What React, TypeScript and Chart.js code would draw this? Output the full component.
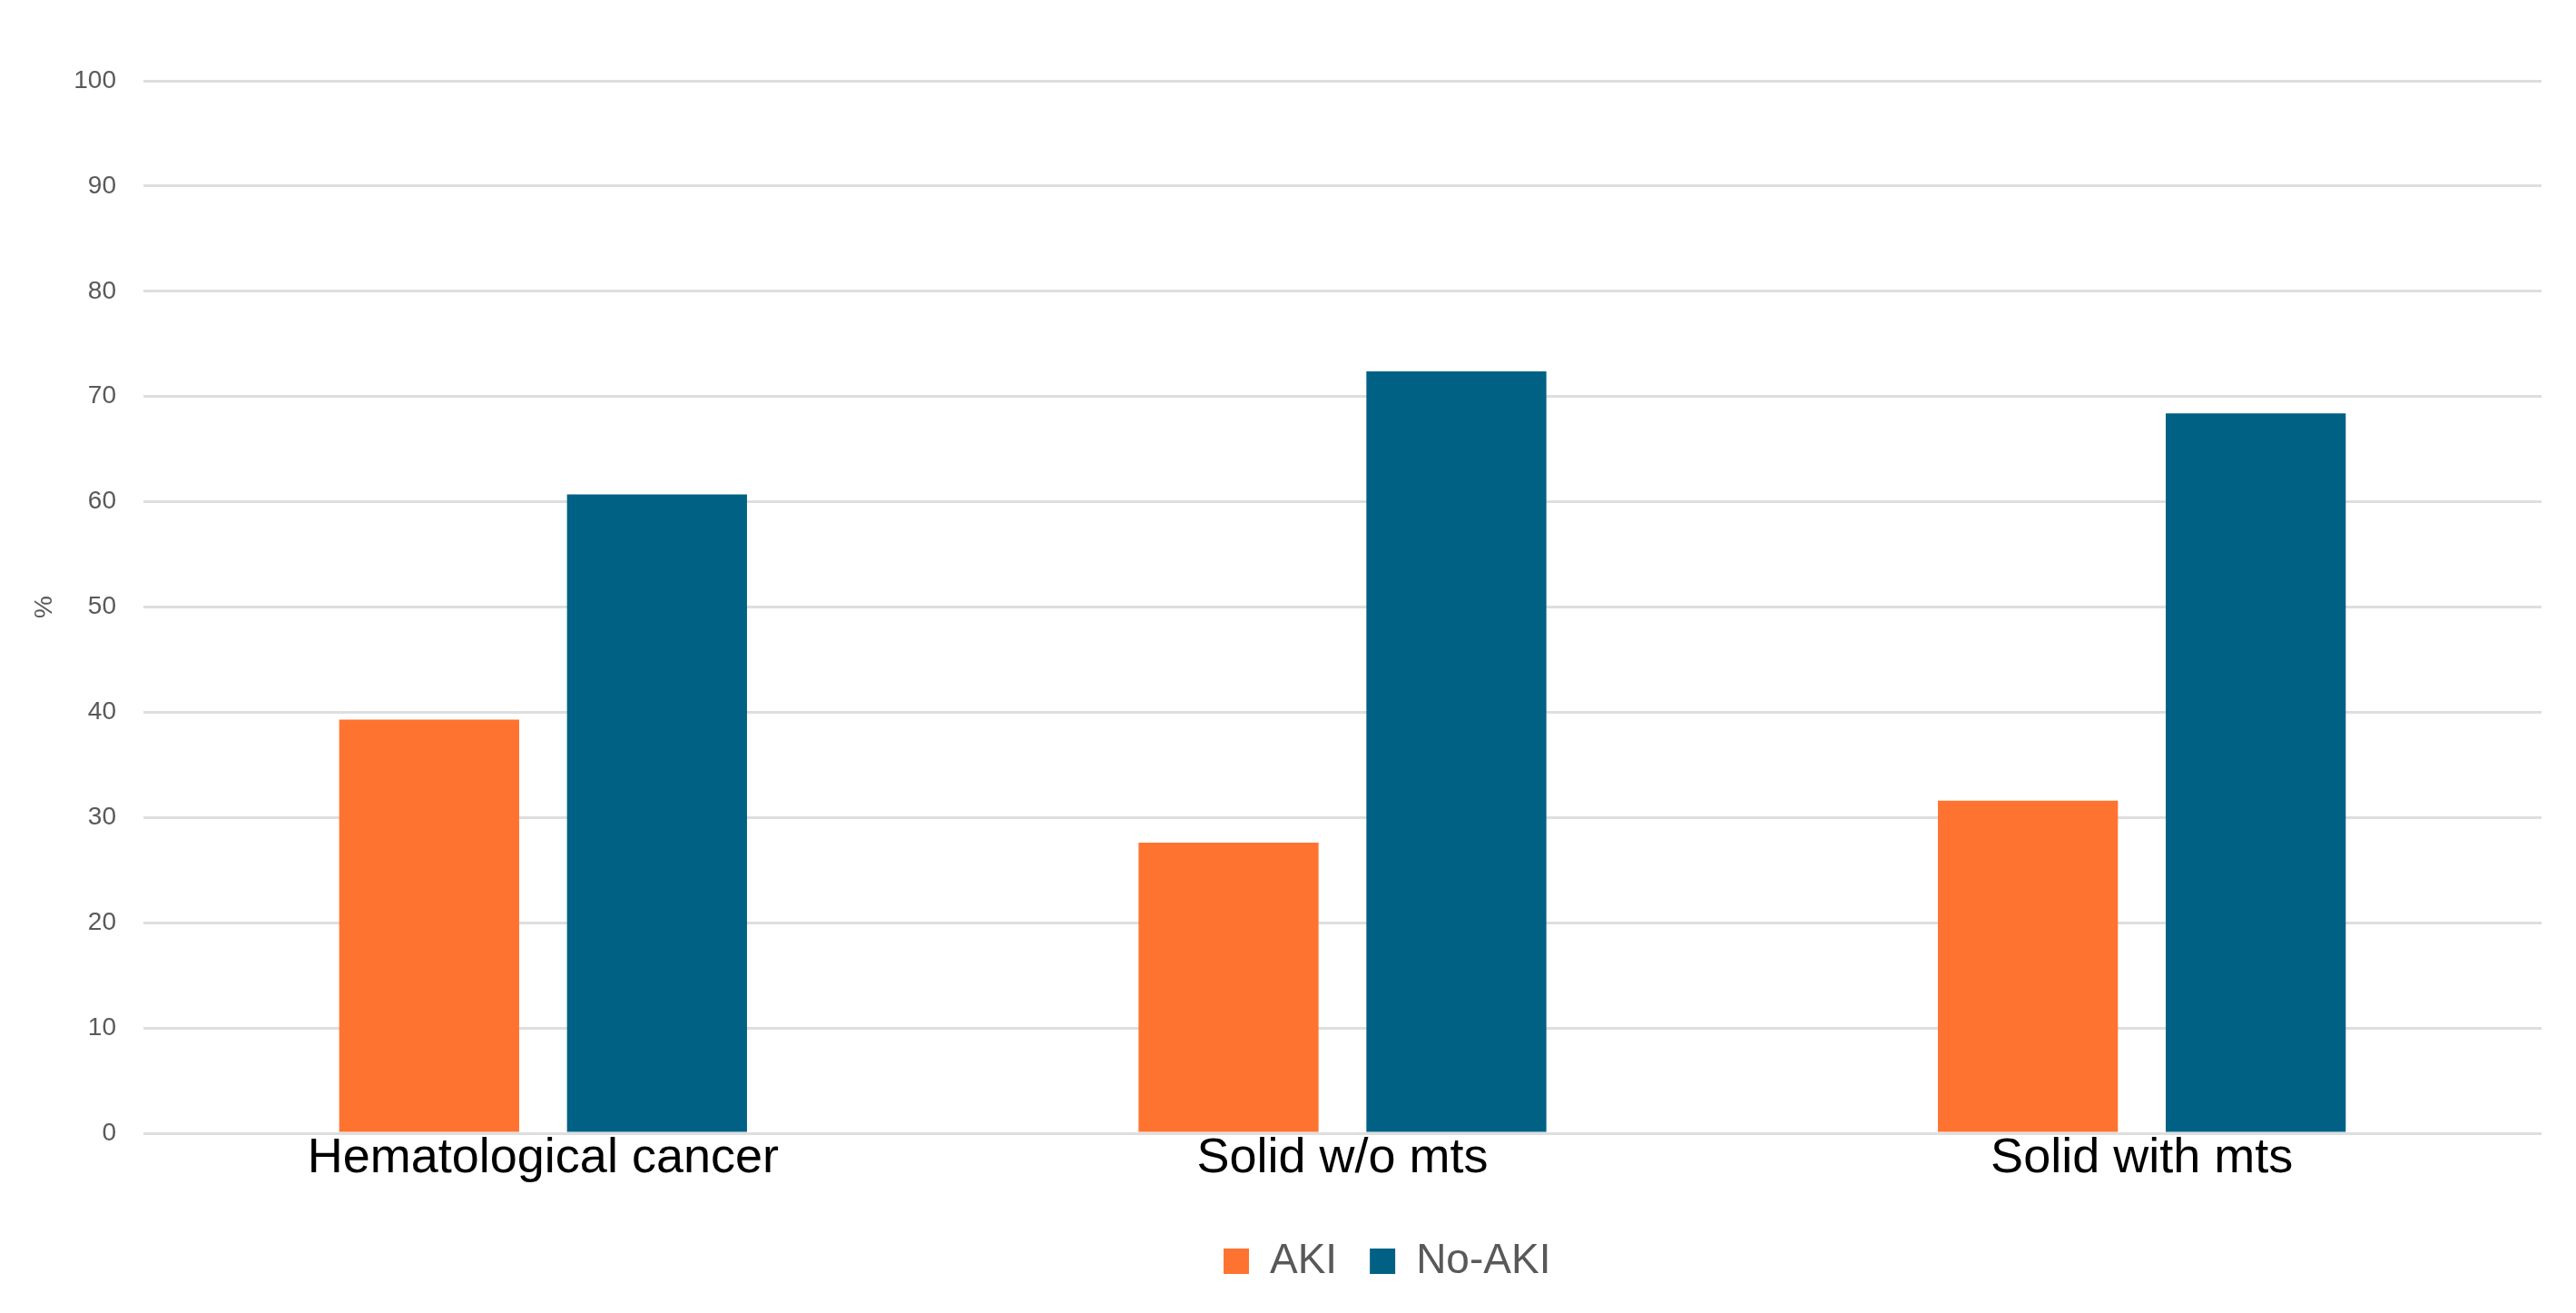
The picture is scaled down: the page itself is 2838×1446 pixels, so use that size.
import React, { useEffect, useRef } from "react";
import { Chart, registerables } from "chart.js";

Chart.register(...registerables);

const categories = ["Hematological cancer", "Solid w/o mts", "Solid with mts"];
const akiValues = [39.3, 27.6, 31.6];
const noAkiValues = [60.7, 72.4, 68.4];
const seriesNames = ["AKI", "No-AKI"];
const yTitle = "%";

const FONT = "'Liberation Sans', Arial, sans-serif";

export default function App() {
  const ref = useRef<HTMLCanvasElement | null>(null);

  useEffect(() => {
    if (!ref.current) return;
    const legendShift = {
      id: "legendShift",
      afterLayout(chart: any) {
        const lg = chart.legend;
        if (!lg || !lg.lineWidths) return;
        const pad = lg.options.labels.padding;
        const start = (lg.left + pad + lg.right - lg.lineWidths[0]) / 2;
        const dx = 1348 - start;
        lg.left += dx;
        lg.right += dx;
      },
    };
    const chart = new Chart(ref.current, {
      type: "bar",
      data: {
        labels: categories,
        datasets: [
          {
            label: seriesNames[0],
            data: akiValues,
            backgroundColor: "#FF7330",
            borderWidth: 0,
          },
          {
            label: seriesNames[1],
            data: noAkiValues,
            backgroundColor: "#006185",
            borderWidth: 0,
          },
        ],
      },
      options: {
        animation: false,
        responsive: true,
        maintainAspectRatio: false,
        datasets: {
          bar: { categoryPercentage: 0.57, barPercentage: 0.79 },
        },
        layout: { padding: { left: 0, right: 38, top: 89, bottom: 24 } },
        plugins: {
          tooltip: { enabled: false },
          legend: {
            position: "bottom",
            labels: {
              boxWidth: 28,
              boxHeight: 28,
              padding: 36,
              color: "#595959",
              font: { family: FONT, size: 46 },
            },
          },
        },
        scales: {
          x: {
            grid: { display: false, drawTicks: false },
            border: { display: false },
            ticks: {
              color: "#000000",
              padding: -4,
              font: { family: FONT, size: 54 },
            },
            afterFit: (s: any) => {
              s.height = 82;
            },
          },
          y: {
            min: 0,
            max: 100,
            ticks: {
              stepSize: 10,
              padding: 30,
              color: "#595959",
              font: { family: FONT, size: 28 },
            },
            grid: { color: "#dedede", lineWidth: 3, drawTicks: false },
            border: { display: false },
            title: {
              display: true,
              text: yTitle,
              color: "#595959",
              font: { family: FONT, size: 28 },
              padding: { top: 32, bottom: 0 },
            },
            afterFit: (s: any) => {
              s.width = 158;
            },
          },
        },
      },
      plugins: [legendShift],
    });
    return () => chart.destroy();
  }, []);

  return (
    <div
      style={{
        position: "fixed",
        left: 0,
        top: 0,
        width: "2838px",
        height: "1446px",
        background: "#ffffff",
      }}
    >
      <canvas ref={ref} />
    </div>
  );
}
